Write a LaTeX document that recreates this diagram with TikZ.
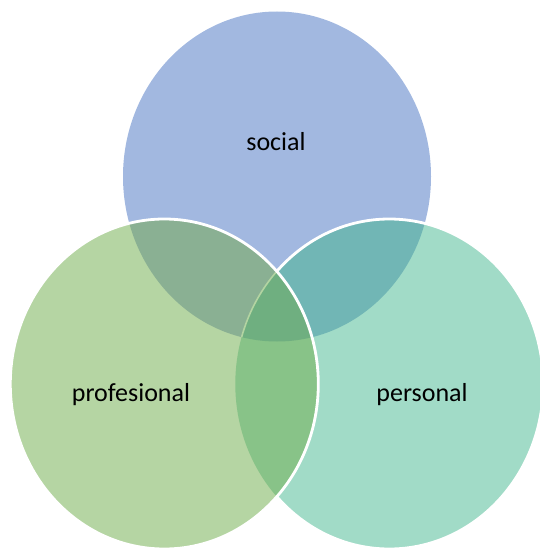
\documentclass[tikz,border=0pt]{standalone}
\usepackage{fontspec}
\setmainfont{Carlito}
\definecolor{cTop}{HTML}{A2B8E0}
\definecolor{cLeft}{HTML}{B5D5A3}
\definecolor{cRight}{HTML}{A1DBC7}
\definecolor{cTL}{HTML}{8AB093}
\definecolor{cTR}{HTML}{71B6B5}
\definecolor{cLR}{HTML}{88C388}
\definecolor{cAll}{HTML}{6FAF80}
\definecolor{cFaint}{HTML}{B3D4A2}
\begin{document}
\begin{tikzpicture}[x=1pt,y=-1pt,
  lbl/.style={font=\fontsize{26}{30}\selectfont, text=black, inner sep=0pt},
  rim/.style={draw=white, line width=2.8pt}]
\useasboundingbox (0,0) rectangle (539,548);
\def\topE{(277,176.5) ellipse [x radius=154, y radius=165]}
\def\leftE{(164.3,384) ellipse [x radius=154, y radius=165]}
\def\rightE{(389.3,384) ellipse [x radius=154, y radius=165]}
% base fills
\fill[cTop] \topE;
\fill[cRight] \rightE;
\begin{scope}
  \clip \rightE;
  \fill[cTR] \topE;
\end{scope}
\draw[rim] \rightE;
\fill[cLeft] \leftE;
\begin{scope}
  \clip \leftE;
  \fill[cTL] \topE;
  \fill[cLR] \rightE;
  \begin{scope}
    \clip \rightE;
    \fill[cAll] \topE;
  \end{scope}
  \begin{scope}
    \clip \topE;
    \draw[cFaint, line width=1.6pt] \rightE;
  \end{scope}
\end{scope}
\draw[rim] \leftE;
% labels
\node[lbl] (social) at (276,142) {social};
\node[lbl] (prof) at (131,395) {profesional};
\node[lbl] (pers) at (422,395) {personal};
\end{tikzpicture}
\end{document}
